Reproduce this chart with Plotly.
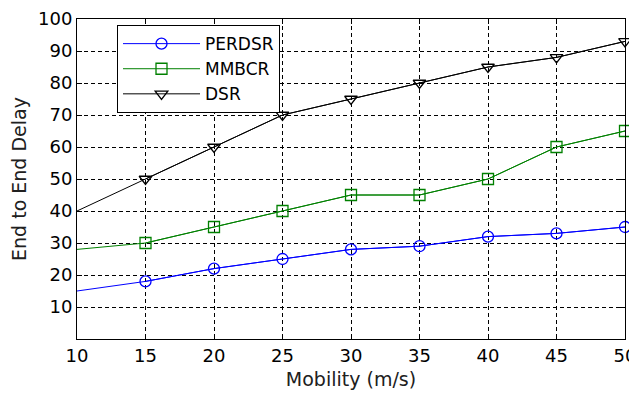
import plotly.graph_objects as go

mobility = [10, 15, 20, 25, 30, 35, 40, 45, 50]
perdsr = [15, 18, 22, 25, 28, 29, 32, 33, 35]
mmbcr = [28, 30, 35, 40, 45, 45, 50, 60, 65]
dsr = [40, 50, 60, 70, 75, 80, 85, 88, 93]

x_ticks = [10, 15, 20, 25, 30, 35, 40, 45, 50]
y_ticks = [10, 20, 30, 40, 50, 60, 70, 80, 90, 100]

series = [
    ("PERDSR", perdsr, "#0000ff", "circle-open"),
    ("MMBCR", mmbcr, "#008000", "square-open"),
    ("DSR", dsr, "#000000", "triangle-down-open"),
]

fig = go.Figure()
for name, vals, color, sym in series:
    # line through all points (first point has no marker in the original)
    fig.add_trace(go.Scatter(
        x=mobility, y=vals, mode="lines", name=name, legendgroup=name,
        showlegend=False, line=dict(color=color, width=1), hoverinfo="skip",
        cliponaxis=False))
    fig.add_trace(go.Scatter(
        x=mobility[1:], y=vals[1:], mode="lines+markers", name=name, legendgroup=name,
        line=dict(color=color, width=1), cliponaxis=False,
        marker=dict(symbol=sym, size=11, color=color, line=dict(color=color, width=1.3))))

font_family = "DejaVu Sans, sans-serif"
axis_common = dict(
    showline=True, linecolor="black", linewidth=1, mirror="ticks",
    ticks="inside", ticklen=5, tickcolor="black",
    showgrid=True, gridcolor="black", gridwidth=1, griddash="4px,3px",
    zeroline=False, automargin=False, ticklabeloverflow="allow",
    tickfont=dict(family=font_family, size=18, color="black"),
)

fig.update_xaxes(range=[10, 50], tickvals=x_ticks, **axis_common,
                 title=dict(text="Mobility (m/s)", font=dict(family=font_family, size=19, color="#202020"), standoff=8))
fig.update_yaxes(range=[0, 100], tickvals=y_ticks, **axis_common,
                 title=dict(text="End to End Delay", font=dict(family=font_family, size=19, color="#202020"), standoff=8))

# the page body has an 8px default margin, so the figure is sized and placed to compensate
fig.update_layout(
    width=629, height=387,
    margin=dict(l=69, r=12, t=11, b=56),
    paper_bgcolor="white", plot_bgcolor="white",
    font=dict(family=font_family, size=18, color="black"),
    legend=dict(x=0.073, y=0.981, xanchor="left", yanchor="top",
                bgcolor="white", bordercolor="black", borderwidth=1,
                font=dict(family=font_family, size=17, color="black"),
                itemwidth=77, entrywidth=118, tracegroupgap=0),
    showlegend=True,
)

fig.write_html("out.html")
